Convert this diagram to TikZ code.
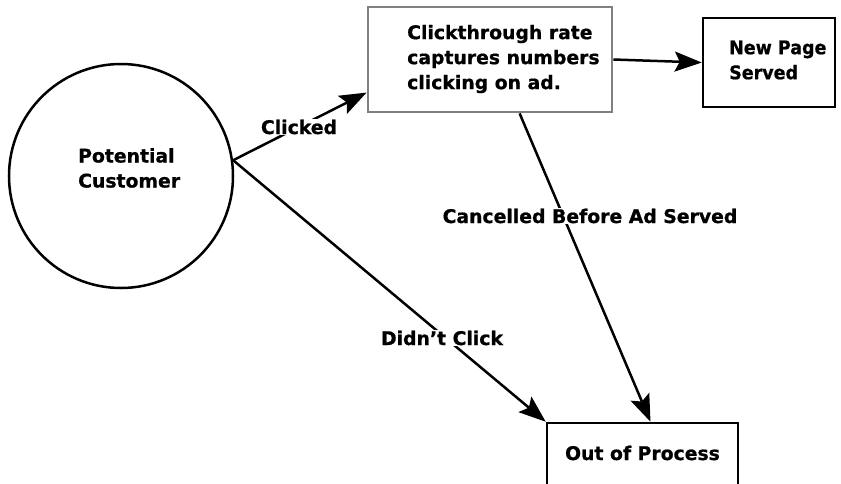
\documentclass[tikz,border=0pt]{standalone}
\usepackage{fontspec}
\setmainfont{DejaVu Sans}[BoldFeatures={FakeBold=0.8}]
\usetikzlibrary{arrows.meta,calc}
\begin{document}
\begin{tikzpicture}[x=1pt,y=-1pt,
  every node/.style={font=\bfseries\fontsize{18.8}{25}\selectfont, inner sep=0pt},
  conn/.style={line width=2.5pt, -{Stealth[length=27pt,width=20pt,inset=5pt]}},
  boxblack/.style={draw=black, line width=2.5pt, rectangle},
  boxgrey/.style={draw=gray, line width=2.8pt, rectangle},
  lbl/.style={text=black, fill=white, inner sep=0.5pt}]
\useasboundingbox (0,0) rectangle (841,483);
% nodes
\node[draw, line width=2.5pt, circle, minimum size=224pt] (cust) at (121,176) {};
\node[anchor=west, align=left] (custtxt) at (78,168) {Potential\\Customer};
\node[boxgrey, minimum width=244pt, minimum height=105pt] (ctr) at (490,59.5) {};
\node[anchor=west, align=left] (ctrtxt) at (407,59) {Clickthrough rate\\captures numbers\\clicking on ad.};
\node[boxblack, minimum width=132pt, minimum height=89pt] (np) at (769,62.5) {};
\node[anchor=west, align=left] (nptxt) at (729,60) {\scalebox{0.93}[1]{New Page}\\\scalebox{0.93}[1]{Served}};
\node[boxblack, minimum width=191pt, minimum height=80pt] (out) at (642.5,463) {};
\node (outtxt) at (642.5,453) {Out of Process};
% connectors
\coordinate (cs) at (cust.8);
\draw[conn] (cs) -- (ctr.195);
\draw[conn] (cs) -- (out.north west);
\draw[conn] ($(ctr.south west)!0.62!(ctr.south east)$) coordinate (cstart) -- ([xshift=8pt]out.north);
\draw[conn] (ctr.east) -- (np.west);
% labels
\node[lbl] (lclick) at (299,127) {Clicked};
\node[lbl] (ldidnt) at (442,338) {Didn’t Click};
\node[lbl] (lcancel) at (590,216) {Cancelled Before Ad Served};
\end{tikzpicture}
\end{document}
